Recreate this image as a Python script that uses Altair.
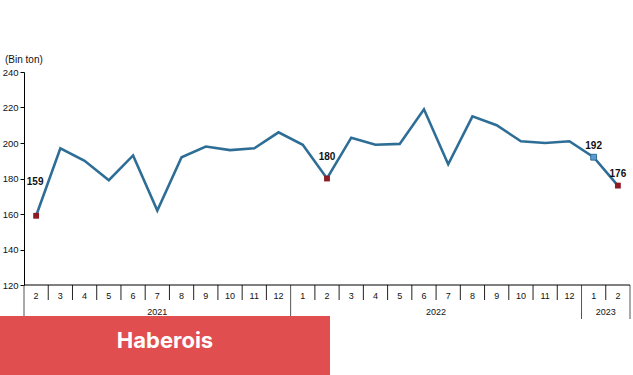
import altair as alt
import pandas as pd

months = ["2","3","4","5","6","7","8","9","10","11","12",
          "1","2","3","4","5","6","7","8","9","10","11","12",
          "1","2"]
values = [159,197,190,179,193,162,192,198,196,197,206,
          199,180,203,199,199.5,219,188,215,210,201,200,201,
          192,176]
years = ["2021","2022","2023"]
year_start = [0, 11, 23]
year_end = [11, 23, 25]
yticks = [120, 140, 160, 180, 200, 220, 240]

W, H = 606, 213
FONT = "Liberation Sans"

df = pd.DataFrame({"pos": [i + 0.5 for i in range(len(values))],
                   "value": values, "month": months,
                   "lbl": [str(round(v)) for v in values]})
ydf = pd.DataFrame({"year": years,
                    "mid": [(a + b) / 2 for a, b in zip(year_start, year_end)]})
sep_m = pd.DataFrame({"b": [i for i in range(1, len(values)) if i not in year_start]})
sep_y = pd.DataFrame({"b": year_start + [len(values)]})
one = pd.DataFrame({"k": [0]})

xs = alt.Scale(domain=[0, len(values)], nice=False, zero=False)
ys = alt.Scale(domain=[120, 240], nice=False, zero=False)
yaxis = alt.Axis(values=yticks, tickCount=7, grid=False,
                 domainColor="black", tickColor="black", tickSize=4,
                 labelFont=FONT, labelFontSize=9.5, labelColor="#111",
                 labelOverlap=False, labelFlush=False,
                 labelPadding=2, title=None, format="d")

base = alt.Chart(df)

def pt(ch):
    return ch.encode(x=alt.X("pos:Q", scale=xs, axis=None),
                     y=alt.Y("value:Q", scale=ys, axis=yaxis))

line = pt(base.mark_line(color="#2E6E96", strokeWidth=2.6))

red_idx = [0, 12, len(values) - 1]
red = pt(base.transform_filter(
    alt.FieldOneOfPredicate(field="pos", oneOf=[i + 0.5 for i in red_idx])
).mark_square(size=34, color="#8E1B22", opacity=1))
blue = pt(base.transform_filter(alt.datum.pos == len(values) - 1.5).mark_square(
    size=34, color="#5B9BD0", stroke="#2E6E96", strokeWidth=1, opacity=1))

def lab(i, dx, dy):
    return pt(base.transform_filter(alt.datum.pos == i + 0.5).mark_text(
        font=FONT, fontSize=10, fontWeight="bold", color="#111", dx=dx, dy=dy
    )).encode(text="lbl:N")

labels = [lab(0, -1, -34), lab(12, 0, -22), lab(len(values) - 2, 0, -11),
          lab(len(values) - 1, 0, -12)]

mtext = base.mark_text(font=FONT, fontSize=9, color="#111").encode(
    x=alt.X("pos:Q", scale=xs, axis=None), y=alt.value(H + 11), text="month:N")
ytext = alt.Chart(ydf).mark_text(font=FONT, fontSize=9, color="#111").encode(
    x=alt.X("mid:Q", scale=xs, axis=None), y=alt.value(H + 27), text="year:N")

msep = alt.Chart(sep_m).mark_rule(color="#222", strokeWidth=1).encode(
    x=alt.X("b:Q", scale=xs, axis=None), y=alt.value(H), y2=alt.value(H + 15))
ysep = alt.Chart(sep_y).mark_rule(color="#555", strokeWidth=1).encode(
    x=alt.X("b:Q", scale=xs, axis=None), y=alt.value(H), y2=alt.value(H + 34))

xline = alt.Chart(one).mark_rule(color="black", strokeWidth=1).encode(
    x=alt.value(0), x2=alt.value(W), y=alt.value(H))

title = alt.Chart(one).mark_text(font=FONT, fontSize=10, color="#111", align="left").encode(
    x=alt.value(-19), y=alt.value(-12), text=alt.value("(Bin ton)"))

banner = alt.Chart(one).mark_rect(color="#E04E4F").encode(
    x=alt.value(-24), x2=alt.value(306), y=alt.value(244), y2=alt.value(303))
btext = alt.Chart(one).mark_text(font="Inter", fontSize=22, fontWeight="bold",
                                 color="white").encode(
    x=alt.value(141), y=alt.value(269), text=alt.value("Haberois"))

chart = alt.layer(line, red, blue, *labels, mtext, ytext, msep, ysep, xline,
                  title, banner, btext).properties(
    width=W, height=H,
    background="white",
    autosize=alt.AutoSizeParams(type="none"),
    padding={"left": 24, "top": 72, "right": 3, "bottom": 90},
).configure_view(stroke=None, strokeWidth=0).configure_axis(labelOverlap=False)

chart.save("out.html", embed_options={"renderer": "svg", "actions": False})
